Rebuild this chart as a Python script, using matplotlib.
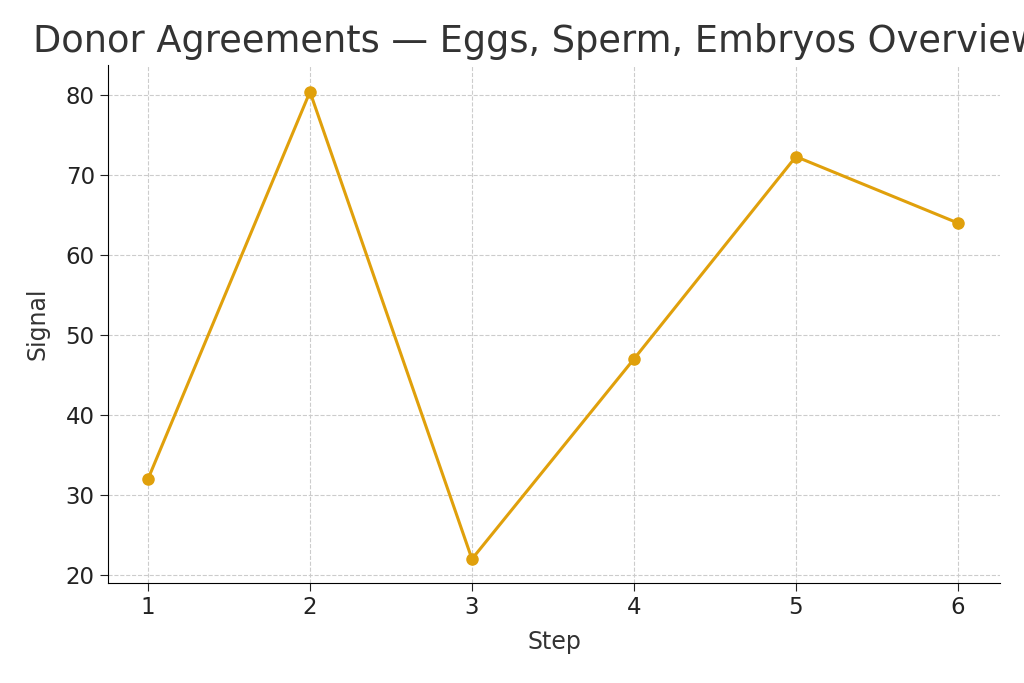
import matplotlib
matplotlib.use("Agg")
import matplotlib.pyplot as plt

steps = [1, 2, 3, 4, 5, 6]
signal = [32, 80.4, 22, 47, 72.3, 64]

fig = plt.figure(figsize=(10.24, 6.83), dpi=100)
ax = fig.add_axes([108 / 1024, 1 - 583 / 683, 892 / 1024, 518 / 683])
ax.plot(steps, signal, color="#E0A00B", lw=2.2, marker="o", ms=8)
ax.set_xlim(0.753, 6.26)
ax.set_ylim(19.0, 83.75)
ax.set_xticks(steps)
ax.set_yticks([20, 30, 40, 50, 60, 70, 80])
ax.grid(True, ls="--", color="#cccccc", lw=0.8)
for s in ["top", "right"]:
    ax.spines[s].set_visible(False)
ax.tick_params(labelsize=16.5, colors="#222222", length=6)
ax.set_xlabel("Step", fontsize=17, color="#333333", labelpad=8)
ax.set_ylabel("Signal", fontsize=17, color="#333333", labelpad=12)
fig.text(33 / 1024, 1 - 42 / 683, "Donor Agreements — Eggs, Sperm, Embryos Overview",
         fontsize=26.5, color="#333333", va="center", ha="left")
fig.savefig("out.png", dpi=100)
